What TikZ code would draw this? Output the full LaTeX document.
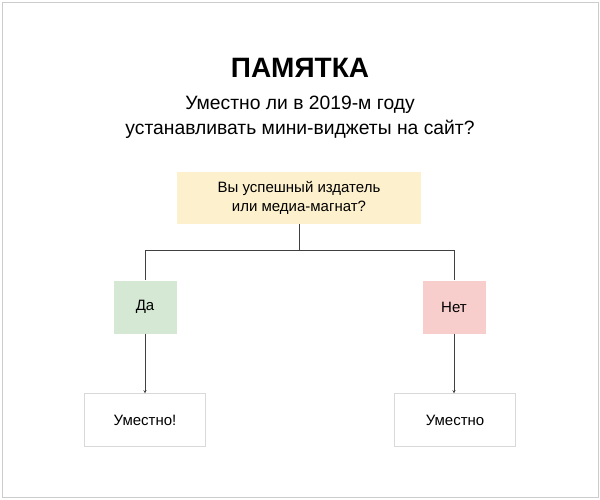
\documentclass[tikz,border=0pt]{standalone}
\usepackage{fontspec}
\setmainfont{Liberation Sans}
\usetikzlibrary{positioning}
\definecolor{askFill}{HTML}{FDF0CC}
\definecolor{yesFill}{HTML}{D5E8D4}
\definecolor{noFill}{HTML}{F8CECC}
\tikzstyle{answerBox}=[minimum width=63pt,minimum height=53pt,inner sep=0pt,font=\fontsize{15}{18}\selectfont]
\tikzstyle{resultBox}=[draw=black!15,fill=white,minimum width=121pt,minimum height=53pt,inner sep=0pt,font=\fontsize{15}{18}\selectfont]
\tikzstyle{branch}=[draw=black!75, thin]

\begin{document}
\begin{tikzpicture}[x=1pt,y=-1pt]
    \useasboundingbox (0,0) rectangle (600,499);
    \draw[black!20] (2,2) rectangle (598,497);

    \node[font=\fontsize{28}{33}\selectfont\bfseries] (title) at (300,68) {ПАМЯТКА};
    \node[align=center, font=\fontsize{19.3}{25}\selectfont] (sub) at (300,117) {Уместно ли в 2019-м году\\устанавливать мини-виджеты на сайт?};

    \node[fill=askFill, minimum width=244pt, minimum height=52pt, inner sep=0pt, align=center, font=\fontsize{15}{19}\selectfont] (ask) at (299,198) {Вы успешный издатель\\или медиа-магнат?};

    \node[answerBox, fill=yesFill] (yes) at (145,307) {Да};
    \node[answerBox, fill=noFill] (no) at (454,307) {Нет};

    \node[resultBox] (r1) at (145,420) {Уместно!};
    \node[resultBox] (r2) at (455,420) {Уместно};

    \coordinate (fork) at (299,250);
    \draw[branch] (ask.south) -- (fork);
    \draw[branch] (fork) -| (yes.north);
    \draw[branch] (fork) -| (no.north);
    \draw[branch, -stealth] (yes.south) -- (r1.north -| yes.south);
    \draw[branch, -stealth] (no.south) -- (r2.north -| no.south);
\end{tikzpicture}
\end{document}
